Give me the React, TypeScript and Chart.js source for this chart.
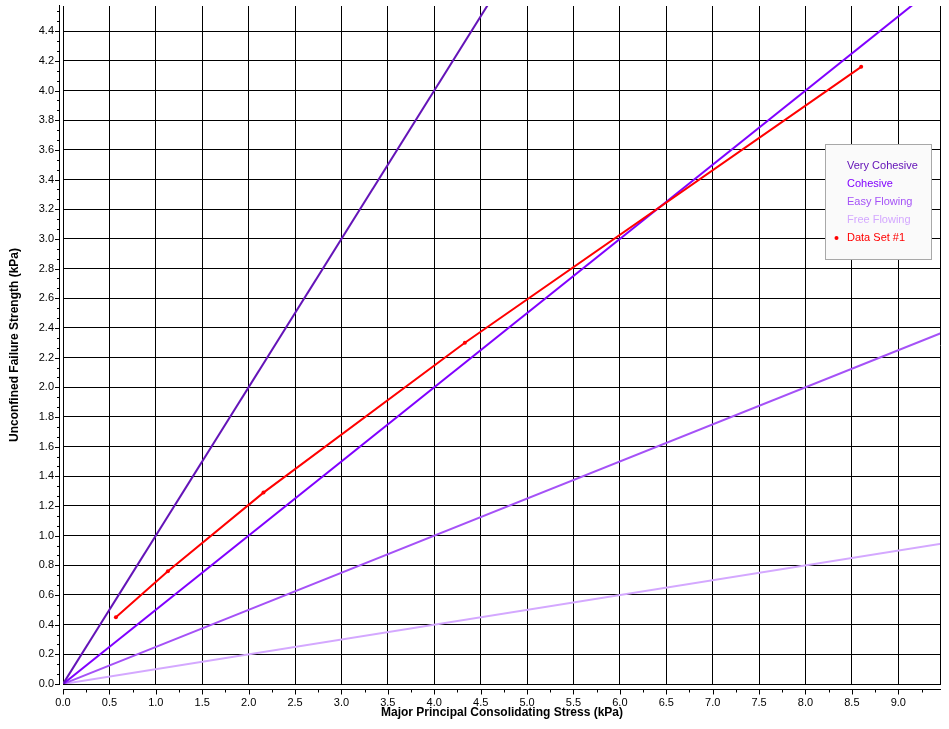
import React, { useEffect, useRef } from "react";
import { Chart, registerables } from "chart.js";

Chart.register(...registerables);

// ---- data ----
const xMax = 9.46;
const yMax = 4.57;
const xTickValues = [0, 0.5, 1.0, 1.5, 2.0, 2.5, 3.0, 3.5, 4.0, 4.5, 5.0, 5.5, 6.0, 6.5, 7.0, 7.5, 8.0, 8.5, 9.0];
const yTickValues = [0, 0.2, 0.4, 0.6, 0.8, 1.0, 1.2, 1.4, 1.6, 1.8, 2.0, 2.2, 2.4, 2.6, 2.8, 3.0, 3.2, 3.4, 3.6, 3.8, 4.0, 4.2, 4.4];
const xMinorPerMajor = 2;
const yMinorPerMajor = 3;
const xTitle = "Major Principal Consolidating Stress (kPa)";
const yTitle = "Unconfined Failure Strength (kPa)";

const seriesNames = ["Very Cohesive", "Cohesive", "Easy Flowing", "Free Flowing", "Data Set #1"];
const seriesColors = ["#6414b8", "#8000ff", "#a552f7", "#d4a8ff", "#ff0000"];

const veryCohesiveX = [0, 10];
const veryCohesiveY = [0, 10];
const cohesiveX = [0, 10];
const cohesiveY = [0, 5];
const easyFlowingX = [0, 10];
const easyFlowingY = [0, 2.5];
const freeFlowingX = [0, 10];
const freeFlowingY = [0, 1];
const dataSetX = [0.57, 1.13, 2.16, 4.33, 8.6];
const dataSetY = [0.45, 0.76, 1.29, 2.3, 4.16];

const FONT = "'Liberation Sans', Arial, sans-serif";

const toPts = (xs: number[], ys: number[]) => xs.map((x, i) => ({ x, y: ys[i] }));

const axisPlugin = {
  id: "offsetAxes",
  afterDraw(chart: any) {
    const { ctx, chartArea } = chart;
    const xs = chart.scales.x;
    const ys = chart.scales.y;
    ctx.save();
    ctx.strokeStyle = "#000";
    ctx.lineWidth = 1;
    // right border
    ctx.beginPath();
    ctx.moveTo(Math.round(chartArea.right) - 0.5, chartArea.top);
    ctx.lineTo(Math.round(chartArea.right) - 0.5, chartArea.bottom + 1);
    ctx.stroke();
    // y axis line
    const ax = 59.5;
    ctx.beginPath();
    ctx.moveTo(ax, chartArea.top - 1);
    ctx.lineTo(ax, chartArea.bottom + 1);
    ctx.stroke();
    // y ticks
    const yStep = yTickValues[1] - yTickValues[0];
    for (let i = 0; i < yTickValues.length; i++) {
      const v = yTickValues[i];
      const p = Math.round(ys.getPixelForValue(v)) + 0.5;
      ctx.beginPath();
      ctx.moveTo(ax - 4.5, p);
      ctx.lineTo(ax, p);
      ctx.stroke();
      for (let k = 1; k < yMinorPerMajor; k++) {
        const mv = v + (yStep * k) / yMinorPerMajor;
        if (mv > yMax) break;
        const mp = Math.round(ys.getPixelForValue(mv)) + 0.5;
        ctx.beginPath();
        ctx.moveTo(ax - 2.5, mp);
        ctx.lineTo(ax, mp);
        ctx.stroke();
      }
    }
    // x axis line
    const ay = Math.round(chartArea.bottom) + 5.5;
    ctx.beginPath();
    ctx.moveTo(chartArea.left, ay);
    ctx.lineTo(chartArea.right, ay);
    ctx.stroke();
    const xStep = xTickValues[1] - xTickValues[0];
    for (let i = 0; i < xTickValues.length; i++) {
      const v = xTickValues[i];
      const p = Math.round(xs.getPixelForValue(v)) + 0.5;
      ctx.beginPath();
      ctx.moveTo(p, ay);
      ctx.lineTo(p, ay + 5);
      ctx.stroke();
      for (let k = 1; k < xMinorPerMajor; k++) {
        const mv = v + (xStep * k) / xMinorPerMajor;
        if (mv > xMax) break;
        const mp = Math.round(xs.getPixelForValue(mv)) + 0.5;
        ctx.beginPath();
        ctx.moveTo(mp, ay);
        ctx.lineTo(mp, ay + 3);
        ctx.stroke();
      }
    }
    ctx.restore();
  },
};

const legendPlugin = {
  id: "boxLegend",
  afterDraw(chart: any) {
    const { ctx } = chart;
    const bx = 825.5, by = 144.5, bw = 106, bh = 115;
    ctx.save();
    ctx.fillStyle = "#fafafa";
    ctx.fillRect(bx, by, bw, bh);
    ctx.strokeStyle = "#a8a8a8";
    ctx.lineWidth = 1;
    ctx.strokeRect(bx, by, bw, bh);
    ctx.font = `11px ${FONT}`;
    ctx.textBaseline = "middle";
    ctx.textAlign = "left";
    chart.data.datasets.forEach((ds: any, i: number) => {
      const y = 166 + i * 18;
      ctx.fillStyle = ds.borderColor;
      ctx.fillText(ds.label, 847, y);
      if (ds.pointRadius > 0) {
        ctx.beginPath();
        ctx.arc(836.5, y, 2, 0, Math.PI * 2);
        ctx.fill();
      }
    });
    ctx.restore();
  },
};

export default function App() {
  const ref = useRef<HTMLCanvasElement | null>(null);
  useEffect(() => {
    document.body.style.margin = "0";
    const canvas = ref.current!;
    const lines = [
      toPts(veryCohesiveX, veryCohesiveY),
      toPts(cohesiveX, cohesiveY),
      toPts(easyFlowingX, easyFlowingY),
      toPts(freeFlowingX, freeFlowingY),
      toPts(dataSetX, dataSetY),
    ];
    const datasets = lines.map((pts, i) => {
      const isData = i === 4;
      return {
        label: seriesNames[i],
        data: pts,
        borderColor: seriesColors[i],
        backgroundColor: seriesColors[i],
        borderWidth: 2,
        pointRadius: isData ? 2 : 0,
        pointHoverRadius: isData ? 2 : 0,
        pointBorderWidth: 0,
        tension: 0,
        fill: false,
        order: isData ? 0 : 1,
      };
    });
    const chart = new Chart(canvas, {
      type: "line",
      data: { datasets },
      options: {
        responsive: false,
        animation: false,
        devicePixelRatio: 1,
        layout: { padding: { top: 6, right: 8, left: 0, bottom: 0 } },
        plugins: { legend: { display: false }, tooltip: { enabled: false }, title: { display: false } },
        events: [],
        scales: {
          x: {
            type: "linear",
            min: 0,
            max: xMax,
            afterBuildTicks: (s: any) => {
              s.ticks = xTickValues.map((v) => ({ value: v }));
            },
            afterFit: (s: any) => {
              s.height = 45;
              s.paddingLeft = 0;
              s.paddingRight = 0;
              s.paddingTop = 0;
              s.paddingBottom = 0;
            },
            ticks: {
              autoSkip: false,
              maxRotation: 0,
              padding: 12,
              color: "#000",
              font: { family: FONT, size: 11 },
              callback: (v: any) => Number(v).toFixed(1),
            },
            grid: { color: "#000", lineWidth: 1, drawTicks: false },
            border: { display: false },
            title: {
              display: true,
              text: xTitle,
              color: "#000",
              font: { family: FONT, size: 12, weight: "bold" },
              padding: { top: 0, bottom: 9 },
            },
          },
          y: {
            type: "linear",
            min: 0,
            max: yMax,
            afterBuildTicks: (s: any) => {
              s.ticks = yTickValues.map((v) => ({ value: v }));
            },
            afterFit: (s: any) => {
              s.width = 63;
              s.paddingLeft = 0;
              s.paddingRight = 0;
              s.paddingTop = 0;
              s.paddingBottom = 0;
            },
            ticks: {
              autoSkip: false,
              padding: 9,
              color: "#000",
              font: { family: FONT, size: 11 },
              callback: (v: any) => Number(v).toFixed(1),
            },
            grid: { color: "#000", lineWidth: 1, drawTicks: false },
            border: { display: false },
            title: {
              display: true,
              text: yTitle,
              color: "#000",
              font: { family: FONT, size: 12, weight: "bold" },
              padding: { top: 7, bottom: 0 },
            },
          },
        },
      },
      plugins: [axisPlugin, legendPlugin],
    });
    return () => chart.destroy();
  }, []);
  return (
    <div style={{ width: 949, height: 729, background: "#fff" }}>
      <canvas ref={ref} width={949} height={729} style={{ display: "block", width: 949, height: 729 }} />
    </div>
  );
}
